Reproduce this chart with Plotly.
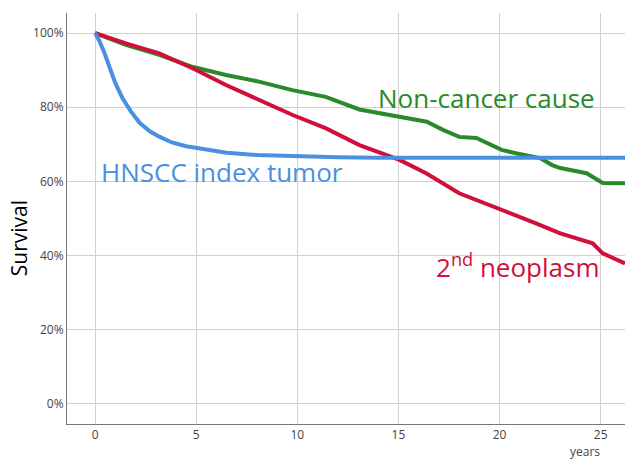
import plotly.graph_objects as go

# HNSCC index tumor
hn_x = [0, 0.2, 0.45, 0.7, 1.0, 1.35, 1.75, 2.2, 2.7, 3.2, 3.8, 4.5, 5.5, 6.5, 8, 10, 12, 14, 26.2]
hn_y = [1.0, 0.98, 0.948, 0.91, 0.865, 0.825, 0.79, 0.758, 0.735, 0.72, 0.705, 0.695, 0.685, 0.677, 0.671, 0.667, 0.665, 0.664, 0.664]

# Non-cancer cause
nc_x = [0, 1.52, 3.17, 4.8, 6.47, 8.1, 9.75, 11.4, 13.07, 14.06, 15.05, 16.4, 17.2, 18.0, 18.85, 20.1, 20.8, 22.0, 22.6, 23.0, 24.3, 24.6, 25.1, 26.2]
nc_y = [1.0, 0.968, 0.941, 0.909, 0.887, 0.869, 0.846, 0.828, 0.794, 0.784, 0.774, 0.761, 0.739, 0.72, 0.717, 0.685, 0.676, 0.663, 0.644, 0.636, 0.622, 0.613, 0.596, 0.595]

# 2nd neoplasm
nn_x = [0, 1.52, 3.17, 4.82, 6.47, 8.1, 9.77, 11.42, 13.07, 15.05, 16.37, 18.0, 20.15, 21.8, 23.0, 24.6, 25.1, 26.2]
nn_y = [1.0, 0.972, 0.945, 0.905, 0.86, 0.819, 0.779, 0.743, 0.698, 0.658, 0.622, 0.568, 0.523, 0.487, 0.46, 0.433, 0.406, 0.379]

x_ticks = [0, 5, 10, 15, 20, 25]
y_ticks = [0, 0.2, 0.4, 0.6, 0.8, 1.0]

GREEN = "#2a8a2a"
RED = "#d0103a"
BLUE = "#4a90e2"

fig = go.Figure()
fig.add_trace(go.Scatter(x=nc_x, y=nc_y, mode="lines", line=dict(color=GREEN, width=4), showlegend=False))
fig.add_trace(go.Scatter(x=nn_x, y=nn_y, mode="lines", line=dict(color=RED, width=4), showlegend=False))
fig.add_trace(go.Scatter(x=hn_x, y=hn_y, mode="lines", line=dict(color=BLUE, width=4), showlegend=False))

fig.update_layout(
    width=625, height=461,
    margin=dict(l=67, r=0, t=13, b=37),
    paper_bgcolor="white", plot_bgcolor="white",
    font=dict(family="Open Sans", color="#444"),
    xaxis=dict(range=[-1.39, 26.2], tickvals=x_ticks, showgrid=True, gridcolor="#d0d0d0", gridwidth=1,
               showline=True, linecolor="#777", linewidth=1, zeroline=False, ticks="", automargin=False,
               tickfont=dict(size=12, color="#444", family="Open Sans")),
    yaxis=dict(range=[-0.054, 1.054], tickvals=y_ticks, tickformat=".0%", showgrid=True, gridcolor="#d0d0d0",
               gridwidth=1, showline=True, linecolor="#777", linewidth=1, zeroline=False, ticks="", automargin=False,
               tickfont=dict(size=12, color="#444", family="Open Sans")),
    annotations=[
        dict(x=13.9, y=0.825, xref="x", yref="y", text="Non-cancer cause", showarrow=False,
             xanchor="left", yanchor="middle", font=dict(size=26, color=GREEN, family="Open Sans")),
        dict(x=0.2, y=0.625, xref="x", yref="y", text="HNSCC index tumor", showarrow=False,
             xanchor="left", yanchor="middle", font=dict(size=26, color=BLUE, family="Open Sans")),
        dict(x=16.75, y=0.372, xref="x", yref="y", text="2<sup>nd</sup> neoplasm", showarrow=False,
             xanchor="left", yanchor="middle", font=dict(size=26, color=RED, family="Open Sans")),
        dict(x=-0.086, y=0.452, xref="paper", yref="paper", text="Survival", showarrow=False, textangle=-90,
             xanchor="center", yanchor="middle", font=dict(size=21, color="black", family="Open Sans")),
        dict(x=0.928, y=-0.068, xref="paper", yref="paper", text="years", showarrow=False,
             xanchor="center", yanchor="middle", font=dict(size=12, color="#444", family="Open Sans")),
    ],
)

fig.write_html("out.html", config={"displayModeBar": False},
               post_script="document.body.style.margin='0px';")
